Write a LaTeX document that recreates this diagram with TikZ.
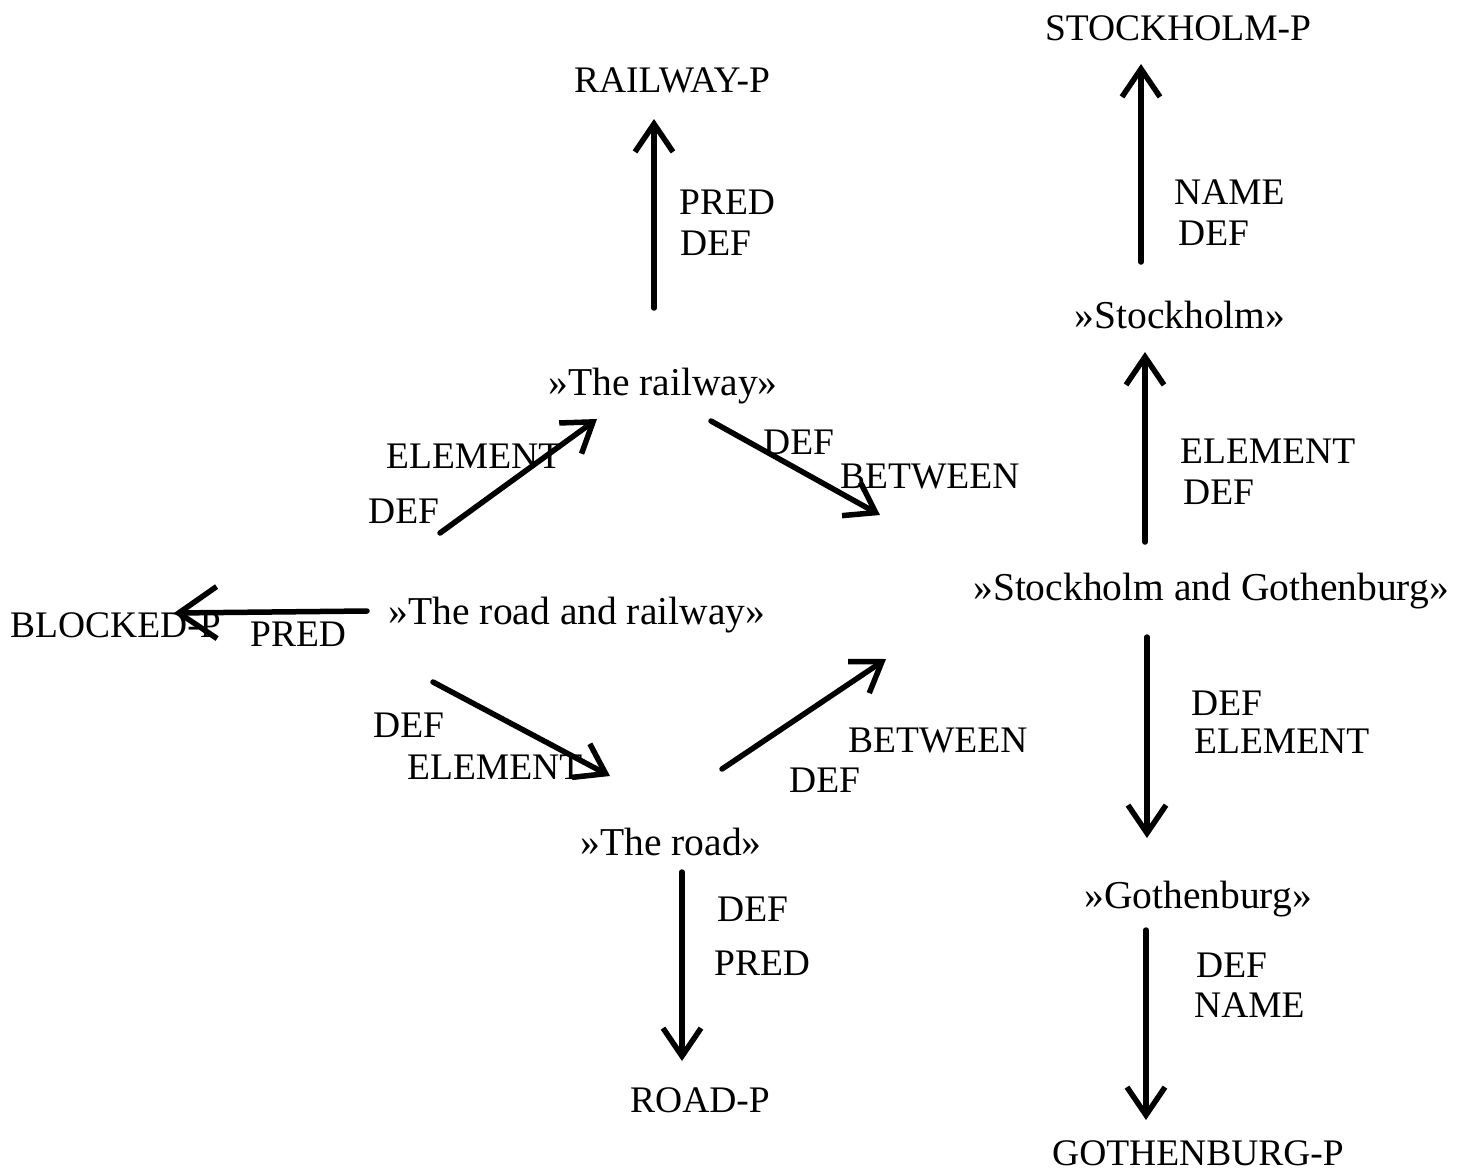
\documentclass[tikz,border=0pt]{standalone}
\usepackage{fontspec}
\setmainfont{Liberation Serif}
\usetikzlibrary{arrows.meta}
\begin{document}
\begin{tikzpicture}[x=1pt,y=-1pt,
  lbl/.style={inner sep=0pt,font=\fontsize{37.5}{44}\selectfont},
  lw/.style={lbl,anchor=base west},
  lc/.style={lbl,anchor=base},
  ln/.style={lc,font=\fontsize{39.5}{46}\selectfont},
  rel/.style={line width=5.5pt,line cap=round,-{Straight Barb[length=28pt,width=38pt,line width=5.5pt]}}]
\useasboundingbox (0,0) rectangle (1461,1171);
% concept nodes
\node[lc] (stockP) at (1178,40) {STOCKHOLM-P};
\node[lc] (railP) at (672,92) {RAILWAY-P};
\node[ln] (stock) at (1180,328) {»Stockholm»};
\node[ln] (rail) at (663,395) {»The railway»};
\node[ln] (sg) at (1211,600) {»Stockholm and Gothenburg»};
\node[lw] (blockP) at (10,637) {BLOCKED-P};
\node[ln] (rr) at (577,624) {»The road and railway»};
\node[ln] (road) at (671,855) {»The road»};
\node[lc] (roadP) at (700,1112) {ROAD-P};
\node[ln] (goth) at (1198,908) {»Gothenburg»};
\node[lc] (gothP) at (1198,1165) {GOTHENBURG-P};
% labels
\node[lw] (l1) at (679,214) {PRED};
\node[lw] (l2) at (680,255) {DEF};
\node[lw] (l3) at (1174,204) {NAME};
\node[lw] (l4) at (1178,245) {DEF};
\node[lw] (l5) at (386,468) {ELEMENT};
\node[lw] (l6) at (368,523) {DEF};
\node[lw] (l7) at (763,454) {DEF};
\node[lw] (l8) at (840,488) {BETWEEN};
\node[lw] (l9) at (1180,463) {ELEMENT};
\node[lw] (l10) at (1183,504) {DEF};
\node[lw] (l11) at (250,646) {PRED};
\node[lw] (l12) at (373,737) {DEF};
\node[lw] (l13) at (407,779) {ELEMENT};
\node[lw] (l14) at (848,752) {BETWEEN};
\node[lw] (l15) at (789,792) {DEF};
\node[lw] (l16) at (717,921) {DEF};
\node[lw] (l17) at (714,975) {PRED};
\node[lw] (l18) at (1191,715) {DEF};
\node[lw] (l19) at (1194,753) {ELEMENT};
\node[lw] (l20) at (1196,977) {DEF};
\node[lw] (l21) at (1194,1017) {NAME};
% connector end points
\coordinate (a1s) at (654,308); \coordinate (a1e) at (654,119);
\coordinate (a2s) at (1141,262); \coordinate (a2e) at (1141,64);
\coordinate (a3s) at (440,533); \coordinate (a3e) at (597,419);
\coordinate (a4s) at (711,421); \coordinate (a4e) at (880,515);
\coordinate (a5s) at (1145,542); \coordinate (a5e) at (1145,352);
\coordinate (a6s) at (367,611); \coordinate (a6e) at (174,613);
\coordinate (a7s) at (433,682); \coordinate (a7e) at (610,776);
\coordinate (a8s) at (722,769); \coordinate (a8e) at (886,659);
\coordinate (a9s) at (682,872); \coordinate (a9e) at (682,1061);
\coordinate (a10s) at (1147,637); \coordinate (a10e) at (1147,838);
\coordinate (a11s) at (1146,930); \coordinate (a11e) at (1146,1120);
\draw[rel] (a1s) -- (a1e);
\draw[rel] (a2s) -- (a2e);
\draw[rel] (a3s) -- (a3e);
\draw[rel] (a4s) -- (a4e);
\draw[rel] (a5s) -- (a5e);
\draw[rel,-{Straight Barb[length=38pt,width=52pt,line width=5.5pt]}] (a6s) -- (a6e);
\draw[rel] (a7s) -- (a7e);
\draw[rel] (a8s) -- (a8e);
\draw[rel] (a9s) -- (a9e);
\draw[rel] (a10s) -- (a10e);
\draw[rel] (a11s) -- (a11e);
\end{tikzpicture}
\end{document}
